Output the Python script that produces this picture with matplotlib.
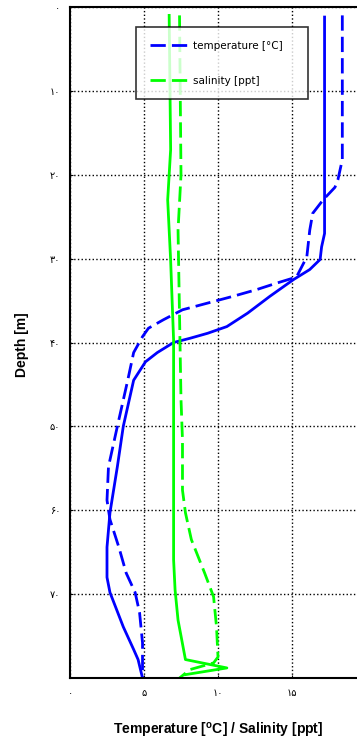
import matplotlib
matplotlib.use('Agg')
import matplotlib.pyplot as plt
from matplotlib.lines import Line2D

# profile 1 (solid) and profile 2 (dashed)
depth_t1 = [1.2, 27.0, 28.6, 30.1, 31.3, 32.5, 34.5, 36.5, 38.1, 38.9, 39.5, 40.0, 41.2, 42.3,
            44.5, 50.0, 54.8, 60.3, 64.4, 68.0, 69.8, 73.9, 76.6, 77.8, 80.0]
temp_t1 = [17.2, 17.2, 17.0, 16.9, 16.2, 15.1, 13.5, 12.0, 10.6, 9.3, 8.1, 7.0, 5.9, 5.1,
           4.3, 3.6, 3.2, 2.7, 2.5, 2.5, 2.7, 3.6, 4.3, 4.6, 4.9]

depth_t2 = [1.0, 18.2, 20.6, 21.5, 23.0, 24.6, 26.6, 29.8, 32.2, 32.9, 33.7, 34.5, 35.3,
            36.1, 37.3, 38.3, 39.3, 41.2, 44.5, 50.0, 54.8, 58.8, 61.1, 64.4, 67.5,
            69.8, 72.2, 75.8, 80.0]
temp_t2 = [18.4, 18.4, 18.1, 17.9, 17.1, 16.4, 16.2, 16.0, 15.3, 14.0, 12.6, 11.0, 9.3,
           7.6, 6.3, 5.3, 4.9, 4.3, 3.9, 3.2, 2.6, 2.5, 2.7, 3.3, 3.8,
           4.4, 4.7, 4.9, 4.9]

depth_s1 = [1.0, 17.0, 23.0, 30.2, 35.0, 39.7, 43.6, 55.5, 61.5, 65.9, 69.5, 73.1, 77.8, 78.8, 79.6]
sal_s1 = [6.7, 6.8, 6.6, 6.8, 6.9, 7.0, 7.0, 7.0, 7.0, 7.0, 7.1, 7.3, 7.8, 10.6, 7.8]

depth_s2 = [1.0, 20.0, 26.6, 46.8, 51.6, 57.6, 60.3, 63.5, 67.5, 70.3, 73.9, 77.5, 78.2, 79.0, 80.0]
sal_s2 = [7.4, 7.5, 7.3, 7.5, 7.6, 7.6, 7.8, 8.2, 9.1, 9.7, 9.9, 10.0, 9.7, 8.1, 7.4]

xticks = [0, 5, 10, 15, 20]
xticklabels = ['۰', '۵', '۱۰', '۱۵', '۲۰']
yticks = [0, 10, 20, 30, 40, 50, 60, 70]
yticklabels = ['۰', '۱۰', '۲۰', '۳۰', '۴۰', '۵۰', '۶۰', '۷۰']

fig = plt.figure(figsize=(3.57, 7.47), dpi=100)
ax = fig.add_axes([70 / 357, 1 - 678 / 747, 296 / 357, 671 / 747])

lw = 2.0
dash = (5.5, 2.2)
ax.plot(temp_t1, depth_t1, color='#0000ff', lw=lw)
ax.plot(temp_t2, depth_t2, color='#0000ff', lw=lw, dashes=dash)
ax.plot(sal_s1, depth_s1, color='#00ff00', lw=lw)
ax.plot(sal_s2, depth_s2, color='#00ff00', lw=lw, dashes=dash)

ax.set_xlim(0, 20)
ax.set_ylim(80, 0)
ax.set_xticks(xticks)
ax.set_xticklabels(xticklabels, fontsize=7, family=['DejaVu Sans'])
ax.set_yticks(yticks)
ax.set_yticklabels(yticklabels, fontsize=7, family=['DejaVu Sans'])
ax.tick_params(direction='in', length=2, pad=7)
ax.grid(True, color='black', linestyle=':', lw=1.0)

for s in ax.spines.values():
    s.set_linewidth(1.5)

lab_font = dict(family=['Liberation Sans', 'DejaVu Sans'], fontweight='bold', fontsize=10)
ax.set_ylabel('Depth [m]', **lab_font)
ax.set_xlabel(r'Temperature [$^\mathregular{o}$C] / Salinity [ppt]', **lab_font)
ax.xaxis.set_label_coords((218 - 70) / 296, -(721 - 678) / 671)
ax.yaxis.set_label_coords(-(70 - 29) / 296, 1 - (345 - 7) / 671)

handles = [Line2D([], [], color='#0000ff', lw=lw, dashes=dash),
           Line2D([], [], color='#00ff00', lw=lw, dashes=dash)]
leg = ax.legend(handles, ['temperature [°C]', 'salinity [ppt]'],
                loc='upper left', bbox_to_anchor=(66 / 296, 1 - 20 / 671, 172 / 296, 0.0),
                mode='expand', fontsize=7.5, frameon=True, fancybox=False,
                handlelength=4.0, handletextpad=0.2, labelspacing=2.4, borderpad=1.3,
                borderaxespad=0)
leg.get_frame().set_edgecolor('black')
leg.get_frame().set_linewidth(1.2)

fig.savefig('out.png', dpi=100)
